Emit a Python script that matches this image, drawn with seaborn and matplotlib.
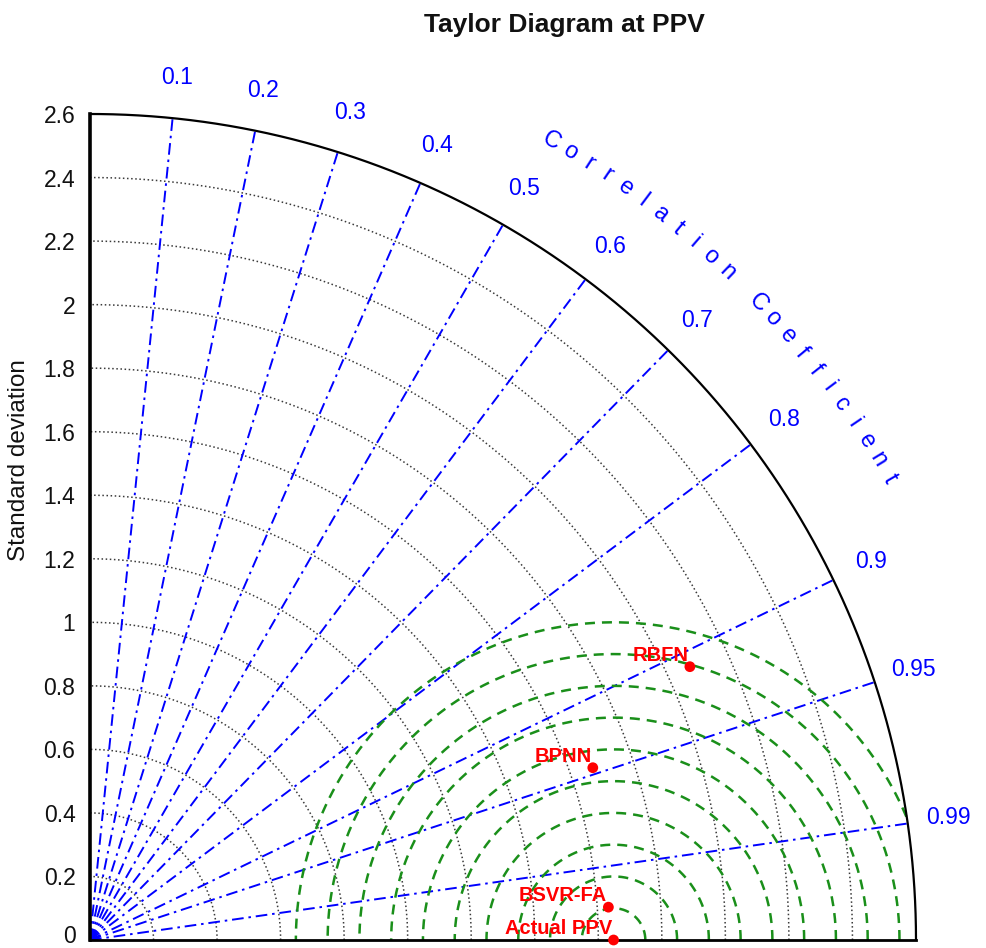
import numpy as np
import pandas as pd
import matplotlib
matplotlib.use("Agg")
import matplotlib.pyplot as plt
import seaborn as sns

# ---------------- data ----------------
models = ["Actual PPV", "BSVR-FA", "BPNN", "RBFN"]
std_devs = [1.648, 1.635, 1.673, 2.075]
correlations = [1.0, 0.998, 0.946, 0.910]

std_ticks = [0, 0.2, 0.4, 0.6, 0.8, 1.0, 1.2, 1.4, 1.6, 1.8, 2.0, 2.2, 2.4, 2.6]
corr_ticks = [0.1, 0.2, 0.3, 0.4, 0.5, 0.6, 0.7, 0.8, 0.9, 0.95, 0.99]
rms_levels = [0.1, 0.2, 0.3, 0.4, 0.5, 0.6, 0.7, 0.8, 0.9, 1.0]
std_max = 2.6
ref_std = 1.648

# ---------------- style ----------------
sns.set_theme(style="white")
plt.rcParams["font.family"] = ["Liberation Sans", "DejaVu Sans"]

W, H = 986, 948
fig = plt.figure(figsize=(W / 100, H / 100), dpi=100)
ax = fig.add_axes([90 / W, 8 / H, 826 / W, 826 / H])
ax.set_xlim(0, std_max)
ax.set_ylim(0, std_max)
ax.set_facecolor("white")
fig.patch.set_facecolor("white")

for s in ["top", "right"]:
    ax.spines[s].set_visible(False)
ax.spines["left"].set_linewidth(2.6)
ax.spines["left"].set_color("black")
ax.spines["bottom"].set_linewidth(2.0)
ax.spines["bottom"].set_color("black")

ax.set_xticks([])
ax.set_yticks(std_ticks[1:])
ax.set_yticklabels([f"{v:g}" for v in std_ticks[1:]], fontsize=16.5, color="#111111")
ax.tick_params(axis="y", length=0, pad=10.5)
# bottom "0" label kept just inside the picture edge
ax.annotate(f"{std_ticks[0]:g}", (0, 0), xytext=(-10.5, -5.5), textcoords="offset points",
            ha="right", va="bottom", fontsize=16.5, color="#111111",
            annotation_clip=False)

theta = np.linspace(0, np.pi / 2, 400)

# std dotted arcs
for r in std_ticks[1:-1]:
    ax.plot(r * np.cos(theta), r * np.sin(theta), color="#3a3a3a", lw=1.1,
            linestyle=(0, (1, 1.7)), zorder=1)
# outer arc
ax.plot(std_max * np.cos(theta), std_max * np.sin(theta), color="black", lw=1.6,
        zorder=3, clip_on=False)

# correlation lines and labels
for c in corr_ticks:
    a = np.arccos(c)
    ax.plot([0, std_max * np.cos(a)], [0, std_max * np.sin(a)], color="#0000ff",
            lw=1.4, linestyle=(0, (6, 2.5, 1.3, 2.5)), zorder=2)
    rl = 2.73
    ax.text(rl * np.cos(a), rl * np.sin(a), f"{c:g}", color="#0000ff", fontsize=16.5,
            ha="center", va="center", clip_on=False)

# curved "Correlation Coefficient" label
title_c = "Correlation Coefficient"
a0, a1 = 60.0, 30.0
n = len(title_c)
for i, ch in enumerate(title_c):
    ang = np.deg2rad(a0 + (a1 - a0) * i / (n - 1))
    ax.text(2.905 * np.cos(ang), 2.905 * np.sin(ang), ch, color="#0000ff", fontsize=17,
            rotation=np.rad2deg(ang) - 90, rotation_mode="anchor",
            ha="center", va="center", clip_on=False)

# RMS green dashed circles centred at reference
phi = np.linspace(0, np.pi, 600)
for r in rms_levels:
    x = ref_std + r * np.cos(phi)
    y = r * np.sin(phi)
    mask = np.hypot(x, y) > std_max
    x = np.where(mask, np.nan, x)
    y = np.where(mask, np.nan, y)
    ax.plot(x, y, color="#1a8f1a", lw=1.8, linestyle=(0, (4, 2.8)), zorder=2)

# points
corr_arr = np.array(correlations)
std_arr = np.array(std_devs)
df = pd.DataFrame({
    "model": models,
    "x": std_arr * corr_arr,
    "y": std_arr * np.sqrt(np.clip(1 - corr_arr ** 2, 0, None)),
})
sns.scatterplot(data=df, x="x", y="y", color="#ff0000", s=60, edgecolor="none",
                ax=ax, zorder=5, clip_on=False, legend=False)
for _, row in df.iterrows():
    ax.annotate(row["model"], (row["x"], row["y"]), xytext=(-1, 4.3),
                textcoords="offset points", ha="right", va="baseline",
                color="#ff0000", fontsize=14.5, fontweight="bold", zorder=6)

ax.set_xlabel("")
ax.set_ylabel("")
ax.text(-0.225, 1.51, "Standard deviation", rotation=90, ha="center", va="center",
        fontsize=17.5, color="#111111", clip_on=False)

fig.text(564 / W, 1 - 31.7 / H, "Taylor Diagram at PPV", ha="center", va="baseline",
         fontsize=19, fontweight="bold", color="#111111")

fig.savefig("out.png", dpi=100, facecolor="white")
